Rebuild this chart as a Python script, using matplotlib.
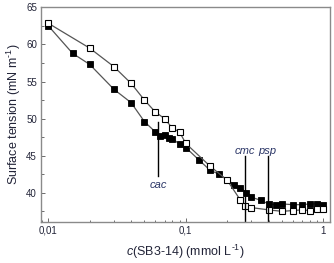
import matplotlib
matplotlib.use("Agg")
import matplotlib.pyplot as plt
from matplotlib.ticker import FixedLocator, FixedFormatter, MultipleLocator, LogLocator, NullFormatter

plt.rcParams['font.family'] = ['Liberation Sans', 'DejaVu Sans']
plt.rcParams['mathtext.fontset'] = 'custom'
plt.rcParams['mathtext.rm'] = 'Liberation Sans'
plt.rcParams['mathtext.it'] = 'Liberation Sans:italic'

# open squares
c_open = [0.01, 0.02, 0.03, 0.04, 0.05, 0.06, 0.07, 0.08, 0.09, 0.1, 0.15, 0.2,
          0.25, 0.27, 0.3, 0.4, 0.5, 0.6, 0.7, 0.8, 0.9, 1.0]
st_open = [62.85, 59.5, 57.0, 54.75, 52.5, 50.9, 50.0, 48.7, 48.2, 46.65, 43.6, 41.7,
           39.0, 38.2, 38.0, 37.7, 37.5, 37.6, 37.7, 37.6, 37.8, 37.8]

# filled squares
c_fill = [0.01, 0.015, 0.02, 0.03, 0.04, 0.05, 0.06, 0.065, 0.07, 0.075, 0.08, 0.09,
          0.1, 0.125, 0.15, 0.175, 0.225, 0.25, 0.275, 0.3, 0.35, 0.4, 0.45, 0.5,
          0.6, 0.7, 0.8, 0.9, 1.0]
st_fill = [62.5, 58.8, 57.3, 53.95, 52.15, 49.6, 48.2, 47.6, 47.75, 47.4, 47.3, 46.55,
           46.1, 44.4, 43.05, 42.5, 41.1, 40.7, 40.0, 39.4, 39.0, 38.5, 38.4, 38.5,
           38.4, 38.4, 38.5, 38.5, 38.4]

# annotations: label, concentration, line top, line bottom, text y
marks = [('cac', 0.063, 49.5, 42.2, 41.0),
         ('cmc', 0.268, 44.9, 36.1, 45.0),
         ('psp', 0.395, 44.9, 36.1, 45.0)]

xticks = [0.01, 0.1, 1]
xticklabels = ['0,01', '0,1', '1']

txt = '#222438'

fig = plt.figure(figsize=(3.34, 2.63), dpi=100)
ax = fig.add_axes([0.123, 0.157, 0.865, 0.815])

ax.plot(c_fill, st_fill, 's-', color='#555555', lw=0.9, ms=4.2,
        mfc='black', mec='black', mew=0.6)
ax.plot(c_open, st_open, 's-', color='#555555', lw=0.9, ms=4.2,
        mfc='white', mec='black', mew=0.8)

for name, cx, y1, y2, ty in marks:
    ax.plot([cx, cx], [y1, y2], color='black', lw=1.0)
    ax.text(cx, ty, name, style='italic', fontsize=8, color='#2a3566',
            ha='center', va='bottom' if name != 'cac' else 'center')

ax.set_xscale('log')
ax.set_xlim(0.00885, 1.12)
ax.set_ylim(36.1, 65)

ax.xaxis.set_major_locator(FixedLocator(xticks))
ax.xaxis.set_major_formatter(FixedFormatter(xticklabels))
ax.xaxis.set_minor_locator(LogLocator(base=10, subs=range(2, 10)))
ax.xaxis.set_minor_formatter(NullFormatter())
ax.yaxis.set_major_locator(MultipleLocator(5))
ax.yaxis.set_minor_locator(MultipleLocator(2.5))

ax.tick_params(which='both', direction='in', colors='#555555', labelcolor=txt,
               labelsize=7, width=0.6, pad=3)
ax.tick_params(which='major', length=3)
ax.tick_params(which='minor', length=1.8)

for s in ax.spines.values():
    s.set_color('#8a8a8a')
    s.set_linewidth(1.0)

ax.set_xlabel(r'$c$(SB3-14) (mmol L$^{\text{-1}}$)', fontsize=9, color=txt, labelpad=5)
ax.set_ylabel(r'Surface tension (mN m$^{\text{-1}}$)', fontsize=9, color=txt, labelpad=2)

fig.savefig('out.png', dpi=100)
